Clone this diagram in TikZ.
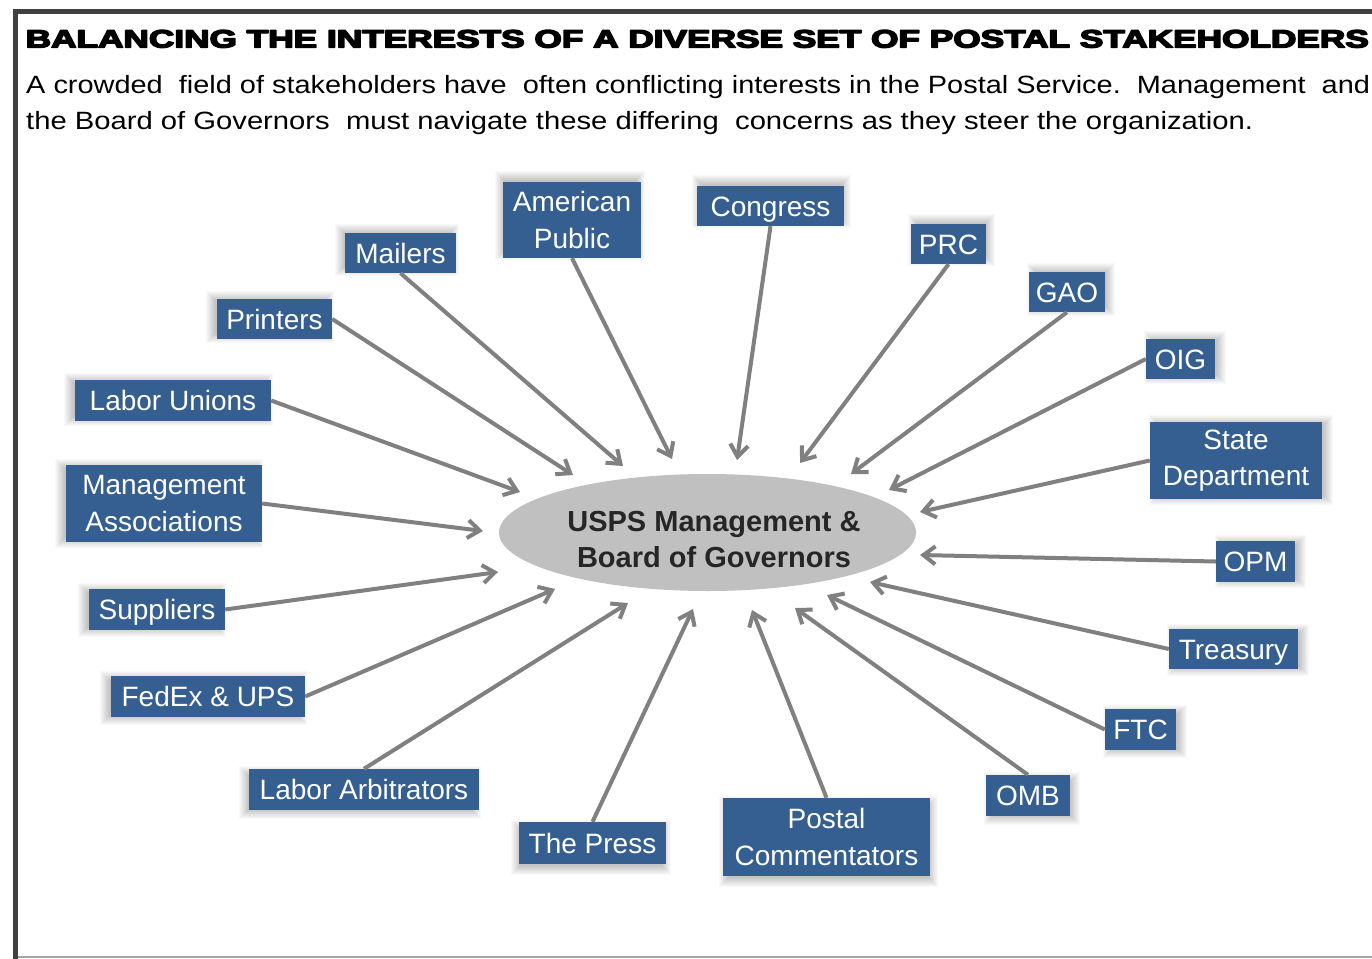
\documentclass[tikz,border=0pt]{standalone}
\usepackage{fontspec}
\setmainfont{Liberation Sans}
\newfontfamily\titlefont{Liberation Sans Bold}
\usepackage{graphicx}
\usetikzlibrary{arrows.meta,shapes.geometric}
\pgfdeclarelayer{background}
\pgfsetlayers{background,main}
\definecolor{boxblue}{HTML}{365F91}
\definecolor{arrowgray}{HTML}{808080}
\definecolor{ellgray}{HTML}{C0C0C0}
\definecolor{framegray}{HTML}{404040}
\definecolor{botgray}{HTML}{A6A6A6}
\definecolor{usptext}{HTML}{262626}
\newcommand{\heavyon}{\special{pdf:literal 2 Tr 1.3 w 0 0 0 RG 1 j}}
\newcommand{\heavyoff}{\special{pdf:literal 0 Tr}}
\tikzset{
  sbox/.style={fill=boxblue, text=white, inner sep=0pt, align=center,
    font=\fontsize{28}{36.5}\selectfont, text height=20pt, text depth=0pt},
  sboxtwo/.style={fill=boxblue, text=white, inner sep=0pt, align=center,
    font=\fontsize{28}{36.5}\selectfont},
  conn/.style={draw=arrowgray, line width=4pt,
    -{Straight Barb[length=12pt,width=18pt]}},
}
\begin{document}
\begin{tikzpicture}[x=1pt,y=-1pt]
\useasboundingbox (0,0) rectangle (1372,958);
\begin{pgfonlayer}{background}
\fill[white] (0,0) rectangle (1372,958);
\end{pgfonlayer}
% frame
\draw[line width=5pt, framegray] (15.5,965) -- (15.5,12) -- (1385,12);
\draw[line width=2pt, botgray] (18,957) -- (1385,957);
% title and subtitle
\node[anchor=base west, inner sep=0pt] (title) at (25.5,47.5)
  {\resizebox{1343pt}{17.5pt}{\titlefont\fontsize{25}{30}\selectfont\heavyon BALANCING THE INTERESTS OF A DIVERSE SET OF POSTAL STAKEHOLDERS\heavyoff}};
\node[anchor=base west, inner sep=0pt, font=\fontsize{25}{30}\selectfont] (subone) at (26,93)
  {\resizebox{1344pt}{\height}{A crowded\ \ field of stakeholders have\ \ often conflicting interests in the Postal Service.\ \ Management\ \ and}};
\node[anchor=base west, inner sep=0pt, font=\fontsize{25}{30}\selectfont] (subtwo) at (26,129)
  {\resizebox{1227pt}{\height}{the Board of Governors\ \ must navigate these differing\ \ concerns as they steer the organization.}};
% centre
\node[ellipse, fill=ellgray, minimum width=417pt, minimum height=117pt, inner sep=0pt] (usps) at (707.5,532.5) {};
\node[align=center, inner sep=0pt, text=usptext, font=\fontsize{29}{36}\selectfont\bfseries] (uspstext) at (714,539.5)
  {USPS Management \&\\Board of Governors};
% stakeholder boxes
\node[sboxtwo, minimum width=138pt, minimum height=76pt] (ampub) at (572,220) {American\\Public};
\node[sbox, minimum width=147pt, minimum height=40pt] (congress) at (770.5,206) {Congress};
\node[sbox, minimum width=111pt, minimum height=40pt] (mailers) at (400.5,253) {Mailers};
\node[sbox, minimum width=75pt, minimum height=40pt] (prc) at (948.5,244) {PRC};
\node[sbox, minimum width=76pt, minimum height=40pt] (gao) at (1067,292) {GAO};
\node[sbox, minimum width=115pt, minimum height=40pt] (printers) at (274.5,319) {Printers};
\node[sbox, minimum width=69pt, minimum height=40pt] (oig) at (1180.5,359) {OIG};
\node[sbox, minimum width=196pt, minimum height=41pt] (unions) at (173,400.5) {Labor Unions};
\node[sboxtwo, minimum width=172pt, minimum height=77pt] (state) at (1236,460.5) {State\\Department};
\node[sboxtwo, minimum width=196pt, minimum height=77pt] (mgmt) at (164,503.5) {Management\\Associations};
\node[sbox, minimum width=79pt, minimum height=41pt] (opm) at (1255.5,561.5) {OPM};
\node[sbox, minimum width=136pt, minimum height=41pt] (suppliers) at (157,609.5) {Suppliers};
\node[sbox, minimum width=129pt, minimum height=40pt] (treasury) at (1233.5,649) {Treasury};
\node[sbox, minimum width=194pt, minimum height=41pt] (fedex) at (208,696.5) {FedEx \& UPS};
\node[sbox, minimum width=71pt, minimum height=41pt] (ftc) at (1140.5,729.5) {FTC};
\node[sbox, minimum width=230pt, minimum height=41pt] (arb) at (364,789.5) {Labor Arbitrators};
\node[sbox, minimum width=84pt, minimum height=41pt] (omb) at (1028,795.5) {OMB};
\node[sbox, minimum width=147pt, minimum height=42pt] (press) at (592.5,843) {The Press};
\node[sboxtwo, minimum width=207pt, minimum height=78pt] (postal) at (826.5,837) {Postal\\Commentators};
% soft shadows
\begin{pgfonlayer}{background}
\foreach \n/\dx/\dy in {ampub/-1.6/3.7, congress/0.75/3.9, mailers/-3.0/2.7, prc/2.6/3.1,
  gao/3.3/2.2, printers/-3.6/1.8, oig/3.75/1.4, unions/-3.9/1.0, state/4.0/0.55,
  mgmt/-4.0/0.2, opm/4.0/-0.2, suppliers/-4.0/-0.55, treasury/3.9/-0.86,
  fedex/-3.8/-1.24, ftc/3.6/-1.65, arb/-3.2/-2.4, omb/3.1/-2.5,
  press/-1.4/-3.75, postal/1.45/-3.7} {
  \foreach \k in {-3,...,6} {
    \fill[black, opacity=0.024]
      ([shift={({\dx*1.2pt-\k*1pt},{\dy*1.2pt-\k*1pt})}]\n.south west) rectangle
      ([shift={({\dx*1.2pt+\k*1pt},{\dy*1.2pt+\k*1pt})}]\n.north east);
  }
}
\end{pgfonlayer}
% arrow tips
\coordinate (tampub) at (672,459);
\coordinate (tcongress) at (737,460);
\coordinate (tmailers) at (623,466);
\coordinate (tprc) at (800,463);
\coordinate (tgao) at (851,474);
\coordinate (tprinters) at (573,475);
\coordinate (toig) at (889,490);
\coordinate (tunions) at (520,492);
\coordinate (tstate) at (920,512);
\coordinate (tmgmt) at (483,531);
\coordinate (topm) at (920,555);
\coordinate (tsuppliers) at (498,572);
\coordinate (ttreasury) at (870,582);
\coordinate (tfedex) at (555,589);
\coordinate (tftc) at (827,595);
\coordinate (tarb) at (628,603);
\coordinate (tomb) at (795,608);
\coordinate (tpress) at (693,609);
\coordinate (tpostal) at (752,610);
% connectors
\draw[conn] (ampub.south) -- (tampub);
\draw[conn] (congress.south) -- (tcongress);
\draw[conn] (mailers.south) -- (tmailers);
\draw[conn] (prc.south) -- (tprc);
\draw[conn] (gao.south) -- (tgao);
\draw[conn] (printers.east) -- (tprinters);
\draw[conn] (oig.west) -- (toig);
\draw[conn] (unions.east) -- (tunions);
\draw[conn] (state.west) -- (tstate);
\draw[conn] (mgmt.east) -- (tmgmt);
\draw[conn] (opm.west) -- (topm);
\draw[conn] (suppliers.east) -- (tsuppliers);
\draw[conn] (treasury.west) -- (ttreasury);
\draw[conn] (fedex.east) -- (tfedex);
\draw[conn] (ftc.west) -- (tftc);
\draw[conn] (arb.north) -- (tarb);
\draw[conn] (omb.north) -- (tomb);
\draw[conn] (press.north) -- (tpress);
\draw[conn] (postal.north) -- (tpostal);
\end{tikzpicture}
\end{document}
